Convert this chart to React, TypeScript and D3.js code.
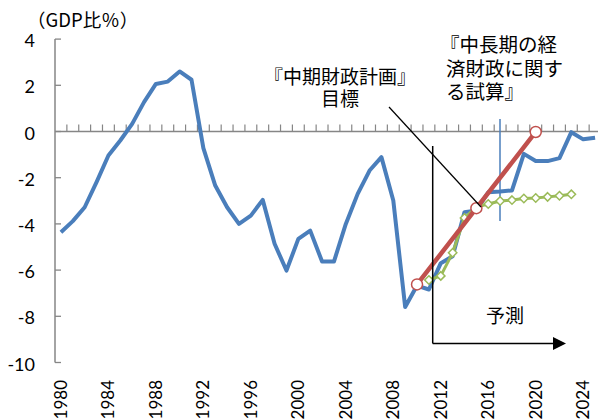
import React from "react";
import * as d3 from "d3";

const years: number[] = d3.range(1980, 2027);
const blueYears: number[] = d3.range(1980, 2026);
const blueValues: number[] = [
  -4.36, -3.88, -3.28, -2.19, -1.04, -0.39, 0.33, 1.27, 2.06, 2.16,
  2.6, 2.24, -0.72, -2.34, -3.28, -4.0, -3.64, -2.96, -4.86, -6.02,
  -4.65, -4.29, -5.63, -5.63, -4.0, -2.7, -1.69, -1.11, -2.99, -7.6,
  -6.67, -6.84, -5.7, -5.4, -3.49, -3.42, -2.63, -2.6, -2.55, -0.97,
  -1.28, -1.28, -1.15, -0.03, -0.34, -0.27,
];
const redYears: number[] = [2010, 2015, 2020];
const redValues: number[] = [-6.62, -3.32, -0.02];
const greenYears: number[] = d3.range(2011, 2024);
const greenValues: number[] = [
  -6.43, -6.25, -5.25, -3.74, -3.27, -3.14, -3.01, -2.97, -2.9, -2.88,
  -2.83, -2.78, -2.72,
];
const yTicks: number[] = [4, 2, 0, -2, -4, -6, -8, -10];
const xLabelYears: number[] = d3.range(1980, 2025, 4);

const W = 598;
const H = 419;
const BLUE = "#4A7EBB";
const RED = "#C0504D";
const GREEN = "#9BBB59";
const AXIS = "#868686";
const NUM_FONT = "Lato, 'Noto Sans', sans-serif";
const JP_FONT = "'Noto Sans CJK JP', 'Noto Sans', sans-serif";

export default function App() {
  const band = 11.87;
  const x = d3
    .scaleBand<number>()
    .domain(years)
    .range([55, 55 + years.length * band])
    .padding(0);
  const cx = (yr: number) => (x(yr) as number) + x.bandwidth() / 2;
  const y = d3.scaleLinear().domain([-10, 4]).range([362.5, 39.1]);

  const line = d3
    .line<[number, number]>()
    .x((d) => cx(d[0]))
    .y((d) => y(d[1]));

  const blueData: [number, number][] = blueYears.map((yr, i) => [yr, blueValues[i]]);
  const redData: [number, number][] = redYears.map((yr, i) => [yr, redValues[i]]);
  const greenData: [number, number][] = greenYears.map((yr, i) => [yr, greenValues[i]]);

  const y0 = y(0);
  const ds = 4.2;

  return (
    <div>
      <style>{"body{margin:0}"}</style>
      <svg width={W} height={H} style={{ display: "block", background: "#fff" }}>
        <defs>
          <clipPath id="plot">
            <rect x={0} y={0} width={W} height={H} />
          </clipPath>
        </defs>
        {/* Y axis */}
        <line x1={55} x2={55} y1={y(4)} y2={y(-10)} stroke={AXIS} strokeWidth={1.5} />
        {yTicks.map((t) => (
          <g key={t}>
            <line x1={55} x2={61} y1={y(t)} y2={y(t)} stroke={AXIS} strokeWidth={1.3} />
            <text
              x={35}
              y={y(t) + 1}
              textAnchor="end"
              dominantBaseline="central"
              fontFamily={NUM_FONT}
              fontSize={18}
              fill="#000"
            >
              {t}
            </text>
          </g>
        ))}
        {/* X axis at 0 */}
        <line x1={55} x2={W} y1={y0} y2={y0} stroke={AXIS} strokeWidth={1.5} />
        {years.map((yr) => (
          <line
            key={yr}
            x1={(x(yr) as number) + band}
            x2={(x(yr) as number) + band}
            y1={y0}
            y2={y0 - 7}
            stroke={AXIS}
            strokeWidth={1.2}
          />
        ))}
        {xLabelYears.map((yr) => (
          <text
            key={yr}
            transform={`translate(${cx(yr) + 6},380) rotate(-90)`}
            textAnchor="end"
            fontFamily={NUM_FONT}
            fontSize={17}
            fill="#000"
          >
            {yr}
          </text>
        ))}
        {/* unit label */}
        <text x={27} y={27} fontFamily={JP_FONT} fontSize={18.5} fill="#000">
          （GDP比％）
        </text>

        <g clipPath="url(#plot)">
          {/* blue actual line */}
          <path
            d={line(blueData) as string}
            fill="none"
            stroke={BLUE}
            strokeWidth={4}
            strokeLinejoin="round"
          />
          {/* thin blue vertical line */}
          <line x1={500} x2={500} y1={119} y2={221} stroke={BLUE} strokeWidth={1.5} />
          {/* green series */}
          <path
            d={line(greenData) as string}
            fill="none"
            stroke={GREEN}
            strokeWidth={3}
            strokeLinejoin="round"
          />
          {greenData.map((d) => (
            <path
              key={d[0]}
              d={`M${cx(d[0])},${y(d[1]) - ds}L${cx(d[0]) + ds},${y(d[1])}L${cx(d[0])},${y(d[1]) + ds}L${cx(d[0]) - ds},${y(d[1])}Z`}
              fill="#fff"
              stroke={GREEN}
              strokeWidth={1.5}
            />
          ))}
          {/* red target line */}
          <path
            d={line(redData) as string}
            fill="none"
            stroke={RED}
            strokeWidth={4.5}
            strokeLinecap="round"
          />
          {redData.map((d) => (
            <circle
              key={d[0]}
              cx={cx(d[0])}
              cy={y(d[1])}
              r={5.5}
              fill="#fff"
              stroke={RED}
              strokeWidth={1.5}
            />
          ))}
        </g>

        {/* annotation line for 中期財政計画 */}
        <line x1={389} y1={107} x2={481} y2={207} stroke="#000" strokeWidth={1.2} />
        {/* forecast bracket */}
        <line x1={432.7} x2={432.7} y1={146} y2={343.5} stroke="#000" strokeWidth={1.5} />
        <line x1={432.7} x2={553} y1={343.5} y2={343.5} stroke="#000" strokeWidth={1.5} />
        <path d="M553,337 L566,343.5 L553,350 Z" fill="#000" />
        <text
          x={505}
          y={314}
          textAnchor="middle"
          dominantBaseline="central"
          fontFamily={JP_FONT}
          fontSize={19}
          fill="#000"
        >
          予測
        </text>

        <text textAnchor="middle" fontFamily={JP_FONT} fontSize={19} fill="#000">
          <tspan x={340} y={84}>『中期財政計画』</tspan>
          <tspan x={340} y={106}>目標</tspan>
        </text>
        <text fontFamily={JP_FONT} fontSize={19.5} fill="#000">
          <tspan x={440} y={52}>『中長期の経</tspan>
          <tspan x={446} y={75.5}>済財政に関す</tspan>
          <tspan x={446} y={99}>る試算』</tspan>
        </text>
      </svg>
    </div>
  );
}
